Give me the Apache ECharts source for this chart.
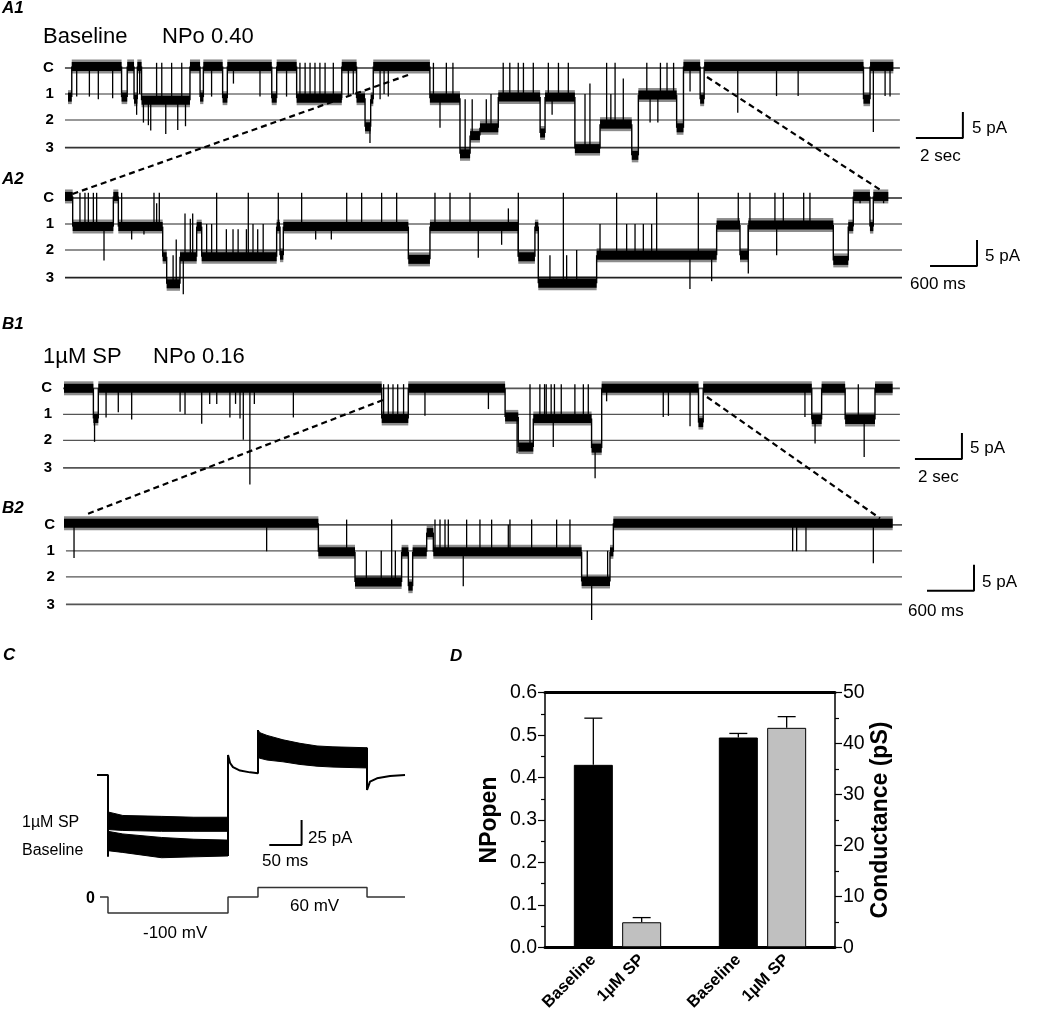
<!DOCTYPE html>
<html><head><meta charset="utf-8">
<script src="https://cdn.jsdelivr.net/npm/echarts@6/dist/echarts.min.js"></script>
<style>html,body{margin:0;padding:0;background:#fff}#c{width:1050px;height:1023px}</style>
</head><body><div id="c"></div>
<script>
// ================= DATA =================
// single-channel levels (pA) and names
const LEVELS = [0, -5, -10, -15.3];
const LEVEL_NAMES = ['C', '1', '2', '3'];

// A1: baseline, time in s, current in pA; [segment start, level]
const A1_STEPS = [[0,-5.6],[0.16,0.3],[2.28,-5.6],[2.52,0.3],[2.81,-6],[2.95,0.3],[3.13,-6.2],[5.19,0.3],[5.62,-5.6],[5.76,0.3],[6.58,-5.8],[6.78,0.3],[8.67,-5.8],[8.88,0.3],[9.73,-5.8],[11.65,0.3],[12.28,-5.8],[12.64,-11.3],[12.88,-6],[12.99,0.3],[15.40,-5.8],[16.68,-16.5],[17.11,-13],[17.53,-11.5],[18.31,-5.6],[20.09,-12.5],[20.30,-5.6],[21.57,-15.5],[22.64,-10.8],[23.99,-16.8],[24.27,-5.2],[25.9,-11.5],[26.19,0.3],[26.9,-6],[27.07,0.3],[33.85,-6],[34.13,0.3]];
const A1_END = 35.12;
// brief events: [time, level reached]
const A1_SPIKES = [[0.37,-5.5],[0.91,-5.5],[1.29,-6],[1.90,-5.8],[2.92,-9],[3.05,-5],[3.21,-10.5],[3.42,-11],[3.52,-12],[3.77,1],[3.99,1],[4.16,-12.7],[4.41,1],[4.67,-11.9],[4.84,1],[5.0,-11.2],[6.11,-5.5],[7.04,-3],[8.17,-5.5],[9.30,-5.5],[9.87,1],[10.09,1],[10.30,1],[10.51,1],[10.72,1],[10.94,1],[11.29,1],[11.93,-5.5],[12.14,-5],[12.85,-14.4],[13.28,-6],[13.45,-5],[13.63,-5.5],[15.55,1],[15.83,-11.5],[16.1,1],[16.38,1],[16.9,-6],[17.2,-6],[17.8,-6],[18.0,-5],[18.52,1],[18.8,1],[19.16,1],[19.38,1],[19.8,1],[20.44,1],[20.6,-9],[20.87,1],[21.29,1],[22.0,-5],[22.21,-3],[22.92,1],[23.1,-5],[23.28,1],[23.63,-2],[24.63,1],[24.77,-10.5],[25.1,-10.5],[25.21,1],[25.49,1],[25.77,1],[26.47,-4.5],[28.5,-8.6],[30.15,-5.4],[31.07,-5.4],[34.27,-12.3],[34.77,-5.4],[34.98,-5.5]];

// A2: baseline expanded, time in ms
const A2_STEPS = [[0,0.3],[98,-5.5],[617,0.3],[681,-5.5],[1247,-11.3],[1298,-16.5],[1468,-11.3],[1681,-5.5],[1745,-11.3],[2702,-5.5],[2745,-11],[2787,-5.5],[4383,-11.8],[4659,-5.5],[5787,-11.3],[5999,-5.5],[6042,-16.4],[6787,-11],[8319,-5.2],[8617,-11],[8723,-5.2],[9808,-12],[9999,-5.5],[10063,0.3],[10276,-5.5],[10319,0.3]];
const A2_END = 10510;
const A2_SPIKES = [[191,1],[255,1],[298,1],[362,1],[404,1],[498,-12],[723,1],[851,-8],[1008,-7],[1136,1],[1170,-1],[1204,1],[1380,-11],[1420,-8],[1510,-18.5],[1532,-3],[1600,-4],[1630,-3],[1808,-5],[1872,-5],[1936,1],[2060,-6],[2145,-6],[2210,-6],[2316,-6],[2340,1],[2400,-5],[2460,-6],[2530,-5],[2723,1],[3021,1],[3200,-8],[3400,-8],[3596,1],[3787,1],[4042,1],[4234,1],[4723,1],[4915,1],[5170,1],[5276,-11.5],[5574,-9],[5660,-2],[5787,1],[6191,-11],[6362,1],[6404,-11],[6532,-10],[6830,-5],[7042,1],[7170,-5],[7277,-5],[7383,-5],[7489,-5],[7553,1],[7978,-17.5],[8085,1],[8255,-16],[8595,1],[8723,-14.5],[8744,1],[9063,1],[9085,-11],[9170,1],[9430,1],[9510,1],[10150,-1],[10450,-1]];

// B1: 1 µM SP, time in s
const B1_STEPS = [[0,0],[1.25,-5.8],[1.46,0],[13.52,-5.8],[14.65,0],[18.77,-5.5],[19.33,-11.3],[19.97,-5.8],[22.45,-11.5],[22.88,0],[27.0,-6.6],[27.2,0],[31.82,-6],[32.24,0],[33.24,-6],[34.51,0]];
const B1_END = 35.26;
const B1_SPIKES = [[1.3,-10.3],[1.79,-5.6],[2.31,-4.6],[2.88,-6],[4.94,-4.5],[5.15,-5],[5.86,-6.8],[6.2,-3],[6.5,-3],[7.06,-5.6],[7.3,-3],[7.49,-5.8],[7.63,-9.9],[7.91,-18.5],[8.1,-3],[9.76,-5.6],[13.6,0.8],[13.8,0.8],[14.0,0.8],[14.2,0.8],[14.45,0.8],[15.36,-5.3],[18.06,-4],[19.28,-12.5],[19.83,0.8],[20.25,0.8],[20.45,0.8],[20.52,0.8],[20.73,0.8],[20.82,-11.3],[20.87,0.8],[21.16,0.8],[21.74,0.8],[22.1,0.8],[22.31,0.8],[22.6,-17.3],[23.09,-2.5],[25.5,-5.5],[25.72,-5.3],[26.64,-7.3],[31.53,-5.5],[31.96,-10.6],[33.8,0.8],[34.05,-13.2]];

// B2: 1 µM SP expanded, time in ms
const B2_STEPS = [[0,0.3],[3247,-5.2],[3715,-11],[4310,-5.2],[4396,-11.8],[4451,-5.2],[4630,-1.5],[4715,-5.2],[6608,-10.9],[6970,-5.2],[7013,0.3]];
const B2_END = 10579;
const B2_SPIKES = [[128,-6.4],[2587,-5.1],[3608,1],[3860,-5],[4050,-5],[4183,1],[4230,-5],[4736,1],[4800,1],[4864,1],[4906,1],[5097,-11.8],[5140,1],[5310,1],[5459,1],[5672,0],[5693,1],[5970,1],[6289,1],[6459,1],[6680,-5],[6736,-18.3],[6940,-5],[9302,-5.1],[9353,-5.1],[9472,-5.1],[10332,-7.4]];

// C: whole-cell currents (ms, pA); bands are [t, low, high]
const C_PRE = [[0,0],[17,0],[17,-93]];
const C_SP_BAND = [[17,-62,-42],[40,-63,-46],[100,-64,-47],[150,-64,-48],[202.8,-64,-48]];
const C_BL_BAND = [[17,-86,-64],[40,-88,-67],[100,-94,-71],[150,-93,-73],[202.8,-92,-74]];
const C_MID = [[202.8,-92],[202.8,22.7],[206,13.6],[210.5,9],[221.4,5],[236.8,3],[249.2,2],[249.2,51]];
const C_POS_BAND = [[249.2,20,51],[252.3,19,48],[263.2,17,45],[287.9,15,40],[314.2,12,36],[340.6,10,33],[365.3,9,32],[418,8,31]];
const C_POST = [[418,31],[418,-17],[422.6,-7.6],[433.4,-3.8],[453.6,-1.1],[476.8,0]];
// voltage protocol (ms, mV)
const VOLT = [[4.6,0],[17,-100],[202.8,0],[249.2,60],[418,0],[476.8,0]];

// D: bar chart
const D_CATS = ['Baseline', '1µM SP', 'Baseline', '1µM SP'];
const NPO = [0.43, 0.059];
const NPO_ERR = [0.11, 0.011];
const COND = [41.2, 43.1];
const COND_ERR = [0.8, 2.2];
const NPO_TICKS = [0, 0.6, 0.1];
const COND_TICKS = [0, 50, 10];

// ================= LAYOUT =================
const FONT = 'Arial, "Liberation Sans", Helvetica, sans-serif';
const PPA = 5.2, YMIN = -22, YMAX = 4, BAND = 9, FRINGE = 14;
const TP = [
  {steps:A1_STEPS, end:A1_END, spikes:A1_SPIKES, x0:68, ppu:23.5, yC:68, xmin:-1, xmax:39, line:[-0.13,35.4], bar:[38.08,-13.46,2,5], lc:'#333'},
  {steps:A2_STEPS, end:A2_END, spikes:A2_SPIKES, x0:65, ppu:47/600, yC:198, xmin:-300, xmax:11700, line:[0,10685], bar:[11643,-13.08,600,5], lc:'#222'},
  {steps:B1_STEPS, end:B1_END, spikes:B1_SPIKES, x0:64, ppu:23.5, yC:388.3, xmin:-1, xmax:39, line:[-0.04,35.57], bar:[38.21,-13.6,2,5], lc:'#555'},
  {steps:B2_STEPS, end:B2_END, spikes:B2_SPIKES, x0:64, ppu:47/600, yC:524.8, xmin:-300, xmax:11700, line:[25,10698], bar:[11617,-12.7,600,5], lc:'#555'}
];
const SLOTS = [1, 2, 4, 5];
const BAR_COLORS = ['#000000', '#c0c0c0'];

function stepItems(steps, end) {
  return steps.map((s, i) => [s[0], i + 1 < steps.length ? steps[i+1][0] : end, s[1], i > 0 ? steps[i-1][1] : s[1]]);
}
function levelAt(steps, t) {
  let lv = steps[0][1];
  for (const s of steps) { if (s[0] <= t) lv = s[1]; else break; }
  return lv;
}
function spikeItems(steps, spikes) { return spikes.map(s => [s[0], levelAt(steps, s[0]), s[1]]); }

function stepRender(params, api) {
  const t0 = api.value(0), t1 = api.value(1), lv = api.value(2), pv = api.value(3);
  const a = api.coord([t0, lv]), b = api.coord([t1, lv]), q = api.coord([t0, pv]);
  const w = Math.max(b[0]-a[0], 0.6);
  return {type:'group', children:[
    {type:'rect', shape:{x:a[0], y:a[1]-FRINGE/2, width:w, height:FRINGE}, style:{fill:'rgba(0,0,0,0.45)'}},
    {type:'rect', shape:{x:a[0], y:a[1]-BAND/2, width:w, height:BAND}, style:{fill:'#000'}},
    {type:'line', shape:{x1:a[0], y1:q[1], x2:a[0], y2:a[1]}, style:{stroke:'#000', lineWidth:1.4}}
  ]};
}
function spikeRender(params, api) {
  const a = api.coord([api.value(0), api.value(1)]), b = api.coord([api.value(0), api.value(2)]);
  return {type:'line', shape:{x1:a[0], y1:a[1], x2:b[0], y2:b[1]}, style:{stroke:'#000', lineWidth:1.3}};
}
function levelRender(p) {
  return function (params, api) {
    const lv = api.value(1), k = api.value(2);
    const a = api.coord([p.line[0], lv]), b = api.coord([p.line[1], lv]);
    return {type:'group', children:[
      {type:'line', shape:{x1:a[0], y1:a[1], x2:b[0], y2:b[1]}, style:{stroke:p.lc, lineWidth:(k===0||k===3)?1.7:1.2}},
      {type:'text', x:a[0]-11, y:a[1], style:{text:LEVEL_NAMES[k], font:'bold 15px '+FONT, fill:'#000', align:'right', verticalAlign:'middle', textAlign:'right', textVerticalAlign:'middle'}}
    ]};
  };
}
function bandRender(band) {
  return function (params, api) {
    if (params.dataIndex !== 0) return null;
    const pts = band.map(d => api.coord([d[0], d[2]])).concat(band.slice().reverse().map(d => api.coord([d[0], d[1]])));
    return {type:'polygon', shape:{points:pts}, style:{fill:'#000', stroke:'#000', lineWidth:1}};
  };
}
function errRender(params, api) {
  const x = api.value(0), v = api.value(1), e = api.value(2);
  const a = api.coord([x, v]), b = api.coord([x, v + e]);
  return {type:'group', children:[
    {type:'line', shape:{x1:a[0], y1:a[1], x2:b[0], y2:b[1]}, style:{stroke:'#000', lineWidth:1.3}},
    {type:'line', shape:{x1:b[0]-9, y1:b[1], x2:b[0]+9, y2:b[1]}, style:{stroke:'#000', lineWidth:1.3}}
  ]};
}

const grids = [], xAxes = [], yAxes = [], series = [];
TP.forEach((p, i) => {
  grids.push({left:p.x0 + p.xmin*p.ppu, width:(p.xmax-p.xmin)*p.ppu, top:p.yC - YMAX*PPA, height:(YMAX-YMIN)*PPA, containLabel:false, outerBoundsMode:'none'});
  xAxes.push({gridIndex:i, type:'value', min:p.xmin, max:p.xmax, show:false});
  yAxes.push({gridIndex:i, type:'value', min:YMIN, max:YMAX, show:false});
  series.push({type:'custom', xAxisIndex:i, yAxisIndex:i, z:1, silent:true,
    data:LEVELS.map((lv, k) => [p.line[0], lv, k]), encode:{x:0, y:1}, renderItem:levelRender(p)});
  series.push({type:'custom', xAxisIndex:i, yAxisIndex:i, z:2, silent:true,
    data:stepItems(p.steps, p.end), encode:{x:[0,1], y:[2,3]}, renderItem:stepRender});
  series.push({type:'custom', xAxisIndex:i, yAxisIndex:i, z:3, silent:true,
    data:spikeItems(p.steps, p.spikes), encode:{x:0, y:[1,2]}, renderItem:spikeRender});
  const [bx, by, dx, dy] = p.bar;
  series.push({type:'line', xAxisIndex:i, yAxisIndex:i, z:3, silent:true, symbol:'none',
    data:[[bx-dx, by],[bx, by],[bx, by+dy]], lineStyle:{color:'#000', width:2}});
});

// C panel grids (index 4 current, 5 voltage)
const CX0 = 97, CPPMS = 0.646;
grids.push({left:CX0 - 10*CPPMS, width:500*CPPMS, top:775 - 60*0.88, height:170*0.88, containLabel:false, outerBoundsMode:'none'});
xAxes.push({gridIndex:4, type:'value', min:-10, max:490, show:false});
yAxes.push({gridIndex:4, type:'value', min:-110, max:60, show:false});
grids.push({left:CX0 - 10*CPPMS, width:500*CPPMS, top:897 - 70*0.16, height:180*0.16, containLabel:false, outerBoundsMode:'none'});
xAxes.push({gridIndex:5, type:'value', min:-10, max:490, show:false});
yAxes.push({gridIndex:5, type:'value', min:-110, max:70, show:false});
[C_SP_BAND, C_BL_BAND, C_POS_BAND].forEach(b => series.push({type:'custom', xAxisIndex:4, yAxisIndex:4, silent:true, z:2,
  data:b, encode:{x:0, y:[1,2]}, renderItem:bandRender(b)}));
[C_PRE, C_MID, C_POST].forEach(d => series.push({type:'line', xAxisIndex:4, yAxisIndex:4, silent:true, symbol:'none', z:2,
  data:d, lineStyle:{color:'#000', width:2}}));
series.push({type:'line', xAxisIndex:4, yAxisIndex:4, silent:true, symbol:'none', z:3,
  data:[[266.7,-79.5],[316.7,-79.5],[316.7,-51.1]], lineStyle:{color:'#000', width:2}});
series.push({type:'line', xAxisIndex:5, yAxisIndex:5, silent:true, symbol:'none', step:'end',
  data:VOLT, lineStyle:{color:'#333', width:1.5}});

// D panel (grid 6)
const SLOT_LABEL = {}; SLOTS.forEach((s, i) => SLOT_LABEL[s] = D_CATS[i]);
grids.push({left:545, top:692.7, width:290, height:254.6, containLabel:false, outerBoundsMode:'none'});
xAxes.push({gridIndex:6, type:'value', min:0, max:6, interval:1, position:'bottom',
  axisLine:{show:true, onZero:false, lineStyle:{color:'#000', width:3}}, axisTick:{show:false}, splitLine:{show:false},
  axisLabel:{rotate:45, margin:10, fontSize:16.5, fontWeight:'bold', fontFamily:FONT, color:'#000', formatter:v => SLOT_LABEL[v] || ''}});
xAxes.push({gridIndex:6, type:'value', min:0, max:6, position:'top',
  axisLine:{show:true, onZero:false, lineStyle:{color:'#000', width:3}}, axisTick:{show:false}, axisLabel:{show:false}, splitLine:{show:false}});
const yAxisD = (pos, t, name, gap, fmt) => ({gridIndex:6, type:'value', position:pos, min:t[0], max:t[1], interval:t[2],
  axisLine:{show:true, onZero:false, lineStyle:{color:'#000', width:1.5}},
  axisTick:{show:true, inside:false, length:7, lineStyle:{color:'#000', width:1.2}},
  minorTick:{show:true, splitNumber:2, length:4, lineStyle:{color:'#000', width:1.2}},
  splitLine:{show:false},
  axisLabel:{fontSize:19.5, fontFamily:FONT, color:'#000', margin:8, formatter:fmt},
  name:name, nameLocation:'middle', nameRotate:90, nameGap:gap,
  nameTextStyle:{fontSize:23, fontWeight:'bold', fontFamily:FONT, color:'#000'}});
yAxes.push(yAxisD('left', NPO_TICKS, 'NPopen', 44, v => v.toFixed(1)));
yAxes.push(yAxisD('right', COND_TICKS, 'Conductance (pS)', 34, v => String(v)));
series.push({type:'bar', xAxisIndex:6, yAxisIndex:6, barWidth:39, barGap:'-100%', silent:true,
  data:NPO.map((v, i) => ({value:[SLOTS[i], v], itemStyle:{color:BAR_COLORS[i]}})), itemStyle:{borderColor:'#000', borderWidth:1}});
series.push({type:'bar', xAxisIndex:6, yAxisIndex:7, barWidth:39, barGap:'-100%', silent:true,
  data:COND.map((v, i) => ({value:[SLOTS[i+2], v], itemStyle:{color:BAR_COLORS[i]}})), itemStyle:{borderColor:'#000', borderWidth:1}});
series.push({type:'custom', xAxisIndex:6, yAxisIndex:6, silent:true, z:1,
  data:NPO.map((v, i) => [SLOTS[i], v, NPO_ERR[i]]), encode:{x:0, y:[1,2]}, renderItem:errRender});
series.push({type:'custom', xAxisIndex:6, yAxisIndex:7, silent:true, z:1,
  data:COND.map((v, i) => [SLOTS[i+2], v, COND_ERR[i]]), encode:{x:0, y:[1,2]}, renderItem:errRender});

const chart = echarts.init(document.getElementById('c'), null, {renderer:'canvas', width:1050, height:1023});
chart.setOption({animation:false, backgroundColor:'#fff', textStyle:{fontFamily:FONT},
  grid:grids, xAxis:xAxes, yAxis:yAxes, series:series});

// text annotations
const TEXTS = [
  ['A1', 2, 8, 'italic bold 17px'], ['Baseline', 43, 37, '22px'], ['NPo 0.40', 162, 37, '22px'],
  ['5 pA', 972, 128, '17px'], ['2 sec', 920, 156, '17px'],
  ['A2', 2, 179, 'italic bold 17px'], ['5 pA', 985, 256, '17px'], ['600 ms', 910, 284, '17px'],
  ['B1', 2, 324, 'italic bold 17px'], ['1µM SP', 43, 357, '22px'], ['NPo 0.16', 153, 357, '22px'],
  ['5 pA', 970, 448, '17px'], ['2 sec', 918, 477, '17px'],
  ['B2', 2, 508, 'italic bold 17px'], ['5 pA', 982, 582, '17px'], ['600 ms', 908, 611, '17px'],
  ['C', 3, 655, 'italic bold 17px'], ['1µM SP', 22, 823, '16px'], ['Baseline', 22, 851, '16px'],
  ['25 pA', 308, 838, '17px'], ['50 ms', 262, 861, '17px'], ['0', 86, 899, 'bold 16px'],
  ['-100 mV', 143, 933, '17px'], ['60 mV', 290, 906, '17px'],
  ['D', 450, 656, 'italic bold 17px']
];
const graphics = TEXTS.map((t, i) => ({type:'text', id:'t'+i, x:t[1], y:t[2], z:20,
  style:{text:t[0], font:t[3] + ' ' + FONT, fill:'#000', align:'left', verticalAlign:'middle', textAlign:'left', textVerticalAlign:'middle'}}));

// dashed expansion links: [fromGrid, toGrid, x1, y1, x2, y2] in data units
const LINKS = [[0,1,14.47,-1.35,25,0.4],[0,1,27.19,-1.73,10430,1.35],[2,3,13.57,-2.25,268,1.9],[2,3,27.36,-1.67,10417,1.25]];
LINKS.forEach((l, i) => {
  const a = chart.convertToPixel({xAxisIndex:l[0], yAxisIndex:l[0]}, [l[2], l[3]]);
  const b = chart.convertToPixel({xAxisIndex:l[1], yAxisIndex:l[1]}, [l[4], l[5]]);
  graphics.push({type:'line', id:'l'+i, z:15, shape:{x1:a[0], y1:a[1], x2:b[0], y2:b[1]},
    style:{stroke:'#000', lineWidth:2.2, lineDash:[6,4]}});
});
chart.setOption({graphic:graphics});
</script></body></html>
